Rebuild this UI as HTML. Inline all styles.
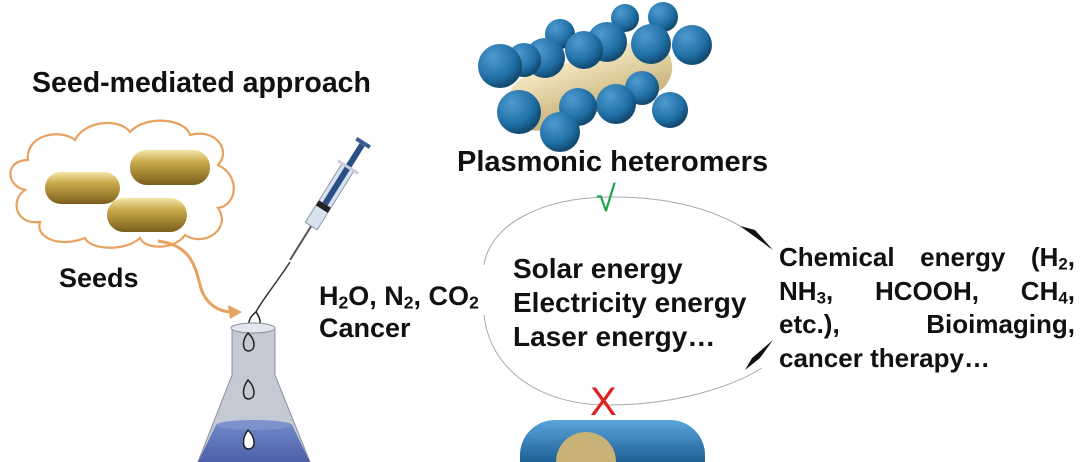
<!DOCTYPE html>
<html style="overflow:hidden"><head><style>
body{margin:0;width:1080px;height:462px;background:#fff;overflow:hidden;position:relative;font-family:"Liberation Sans",Arial,sans-serif;font-weight:bold;color:#111}
.t{position:absolute;white-space:nowrap}
sub{font-size:0.65em;vertical-align:-0.2em;line-height:0}
.ln{display:flex;justify-content:space-between;height:33.5px;line-height:33.5px;white-space:nowrap}
</style></head><body>
<svg width="1080" height="462" style="position:absolute;left:0;top:0">
<defs>
<linearGradient id="gold" x1="0" y1="0" x2="0" y2="1"><stop offset="0" stop-color="#f3e6a8"/><stop offset="0.35" stop-color="#c9a94a"/><stop offset="1" stop-color="#7a5f1c"/></linearGradient>
<radialGradient id="blue" cx="0.35" cy="0.3" r="0.7"><stop offset="0" stop-color="#4f9bd0"/><stop offset="0.7" stop-color="#1f6fa5"/><stop offset="1" stop-color="#134a70"/></radialGradient>
<linearGradient id="rod" x1="0" y1="0" x2="0" y2="1"><stop offset="0" stop-color="#f4e7c0"/><stop offset="1" stop-color="#c8b27a"/></linearGradient>
<linearGradient id="bcap" x1="0" y1="0" x2="0" y2="1"><stop offset="0" stop-color="#5aa6dc"/><stop offset="1" stop-color="#1d5f93"/></linearGradient>
<linearGradient id="liq" x1="0" y1="0" x2="0" y2="1"><stop offset="0" stop-color="#6f86c8"/><stop offset="1" stop-color="#4d5fa8"/></linearGradient>
</defs>
<path d="M25,190 C5,185 5,160 28,160 C25,135 60,128 75,140 C85,120 120,118 130,132 C145,115 185,118 190,135 C215,128 232,150 218,165 C240,175 238,205 218,208 C232,228 205,248 185,235 C175,250 145,250 140,238 C125,252 90,250 85,238 C60,248 35,238 40,222 C15,225 10,200 25,190 Z" fill="#fff" stroke="#e9a15f" stroke-width="2.2"/>
<rect x="45" y="172" width="75" height="32" rx="16" fill="url(#gold)"/>
<rect x="130" y="150" width="80" height="35" rx="17" fill="url(#gold)"/>
<rect x="107" y="198" width="80" height="34" rx="17" fill="url(#gold)"/>
<path d="M158,241 C190,245 195,265 200,285 C205,305 220,312 232,312" fill="none" stroke="#e9a15f" stroke-width="3"/>
<polygon points="242,312 228,305 230,319" fill="#e9a15f"/>
<g transform="translate(290,260) rotate(-58)">
<line x1="0" y1="0" x2="40" y2="0" stroke="#555" stroke-width="2"/>
<rect x="40" y="-7" width="70" height="14" fill="#d8e2ee" stroke="#8899aa"/>
<rect x="60" y="-7" width="6" height="14" fill="#222"/>
<rect x="66" y="-3" width="70" height="6" fill="#2a4e86"/>
<rect x="108" y="-12" width="3" height="24" fill="#ccd"/>
<rect x="136" y="-8" width="4" height="16" fill="#3a5a90"/>
</g>
<path d="M290,262 C275,285 262,300 256,312" stroke="#333" stroke-width="1.5" fill="none"/>
<path d="M256,312 C248,318 246,328 253,330 C262,331 262,320 256,312Z" fill="#fff" stroke="#222" stroke-width="1.5"/>
<path d="M232,328 L275,328 L275,375 L310,462 L198,462 L232,375 Z" fill="#c4c9d4" stroke="#8a90a0"/>
<ellipse cx="253" cy="328" rx="22" ry="5" fill="#e4e7ee" stroke="#8a90a0"/>
<path d="M216,425 L292,425 L310,462 L198,462 Z" fill="url(#liq)"/>
<ellipse cx="254" cy="425" rx="38" ry="5" fill="#7d92cc"/>
<path d="M248,333 C242,340 242,350 248,351 C256,351 256,340 248,333Z" fill="none" stroke="#222" stroke-width="1.5"/>
<path d="M248,380 C242,388 242,398 248,399 C256,399 256,388 248,380Z" fill="none" stroke="#222" stroke-width="1.5"/>
<path d="M248,430 C242,438 242,448 248,449 C256,449 256,438 248,430Z" fill="#fff" stroke="#222" stroke-width="1.5"/>
<g transform="translate(590,85) rotate(-18)">
<rect x="-85" y="-28" width="170" height="56" rx="28" fill="url(#rod)"/>
</g>
<g fill="url(#blue)">
<circle cx="560" cy="34" r="15"/><circle cx="625" cy="18" r="14"/><circle cx="663" cy="17" r="15"/><circle cx="545" cy="58" r="20"/><circle cx="607" cy="42" r="20"/><circle cx="651" cy="44" r="20"/><circle cx="692" cy="45" r="20"/><circle cx="584" cy="50" r="19"/><circle cx="524" cy="60" r="17"/><circle cx="670" cy="110" r="18"/><circle cx="642" cy="88" r="17"/><circle cx="500" cy="66" r="22"/><circle cx="519" cy="112" r="22"/><circle cx="616" cy="104" r="20"/><circle cx="578" cy="107" r="19"/><circle cx="560" cy="132" r="20"/>
</g>
<path d="M484,265 C490,225 540,198 608,197 C680,196 735,215 770,248" fill="none" stroke="#aaa" stroke-width="1"/>
<path d="M484,315 C490,370 540,405 608,405 C680,405 735,385 762,368" fill="none" stroke="#aaa" stroke-width="1"/>
<polygon points="740,226 755,230 773,250 762,242" fill="#111"/>
<polygon points="773,340 760,358 745,370 752,358" fill="#111"/>
<path d="M520,462 L520,455 A35,35 0 0 1 555,420 L670,420 A35,35 0 0 1 705,455 L705,462 Z" fill="url(#bcap)"/>
<path d="M556,462 A30,30 0 0 1 616,462 Z" fill="#c9b277"/>
</svg>
<div class="t" style="left:32px;top:67px;font-size:28.5px">Seed-mediated approach</div>
<div class="t" style="left:59px;top:263px;font-size:27px">Seeds</div>
<div class="t" style="left:457px;top:146px;font-size:29px">Plasmonic heteromers</div>
<div class="t" style="left:596px;top:178px;font-size:36px;color:#1aa34a;font-weight:normal">√</div>
<div class="t" style="left:590px;top:380px;font-size:40px;color:#e02020;font-weight:normal">X</div>
<div class="t" style="left:319px;top:280px;font-size:27px;line-height:32px">H<sub>2</sub>O, N<sub>2</sub>, CO<sub>2</sub><br>Cancer</div>
<div class="t" style="left:513px;top:252px;font-size:28px;line-height:34px">Solar energy<br>Electricity energy<br>Laser energy…</div>
<div style="position:absolute;left:779px;top:241px;width:296px;font-size:26px">
<div class="ln"><span>Chemical</span><span>energy</span><span>(H<sub>2</sub>,</span></div>
<div class="ln"><span>NH<sub>3</sub>,</span><span>HCOOH,</span><span>CH<sub>4</sub>,</span></div>
<div class="ln"><span>etc.),</span><span>Bioimaging,</span></div>
<div class="ln"><span>cancer therapy…</span></div>
</div>
</body></html>
